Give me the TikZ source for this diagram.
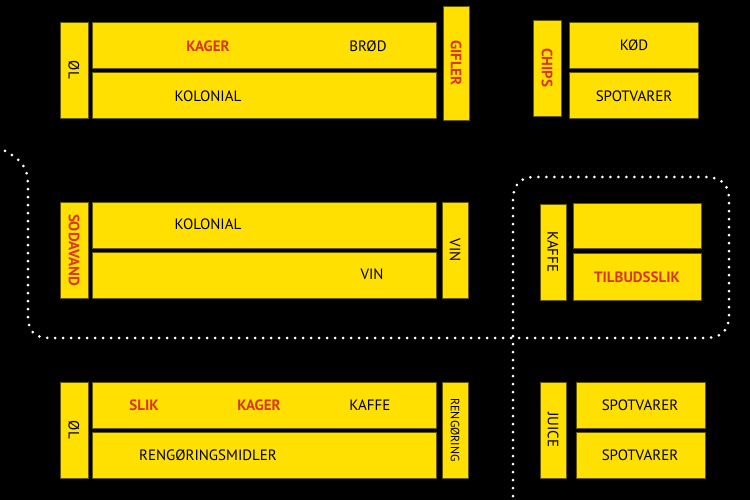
\documentclass[tikz,border=0pt]{standalone}
\usepackage{fontspec}
\setmainfont{PT Sans}
\definecolor{yel}{HTML}{FFE000}
\definecolor{rd}{HTML}{D9361E}
\begin{document}
\begin{tikzpicture}[x=1pt,y=-1pt,
 box/.style={fill=yel,draw=black!60!yel,line width=0.6pt},
 t/.style={font=\fontsize{15}{15}\selectfont,text=black},
 r/.style={font=\fontsize{15}{15}\selectfont\bfseries,text=rd},
 dots/.style={white,line width=3pt,line cap=round,dash pattern=on 0pt off 8pt}]
\fill[black] (0,0) rectangle (750,500);
\useasboundingbox (0,0) rectangle (750,500);
% top
\draw[box] (60,22) rectangle (88,118);
\draw[box] (92,22) rectangle (436,68);
\draw[box] (92,72) rectangle (436,118);
\draw[box] (443,6) rectangle (469,120);
\draw[box] (533,20) rectangle (561,116);
\draw[box] (569,22) rectangle (698,68);
\draw[box] (569,72) rectangle (698,118);
\node[t,rotate=-90] (ol1) at (74,70) {ØL};
\node[r] (kager1) at (208,46) {KAGER};
\node[t] (brod) at (368,46) {BRØD};
\node[t] (kol1) at (208,96) {KOLONIAL};
\node[r,rotate=-90] (gifler) at (456,63) {GIFLER};
\node[r,rotate=-90] (chips) at (547,68) {CHIPS};
\node[t] (kod) at (634,45) {KØD};
\node[t] (spot1) at (634,96) {SPOTVARER};
% middle
\draw[box] (60,202) rectangle (88,298);
\draw[box] (92,202) rectangle (436,248);
\draw[box] (92,252) rectangle (436,298);
\draw[box] (442,202) rectangle (468,298);
\draw[box] (540,204) rectangle (566,300);
\draw[box] (573,203) rectangle (701,248);
\draw[box] (573,253) rectangle (701,300);
\node[r,rotate=-90] (soda) at (74,250) {SODAVAND};
\node[t] (kol2) at (208,224) {KOLONIAL};
\node[t] (vin1) at (372,274) {VIN};
\node[t,rotate=-90] (vin2) at (455,250) {VIN};
\node[t,rotate=-90] (kaffe1) at (553,252) {KAFFE};
\node[r] (tilbud) at (637,277) {TILBUDSSLIK};
% bottom
\draw[box] (60,382) rectangle (88,478);
\draw[box] (92,382) rectangle (436,428);
\draw[box] (92,432) rectangle (436,478);
\draw[box] (442,382) rectangle (468,478);
\draw[box] (540,382) rectangle (566,478);
\draw[box] (576,382) rectangle (705,428);
\draw[box] (576,432) rectangle (705,478);
\node[t,rotate=-90] (ol2) at (74,430) {ØL};
\node[r] (slik) at (144,405) {SLIK};
\node[r] (kager2) at (259,405) {KAGER};
\node[t] (kaffe2) at (370,405) {KAFFE};
\node[t] (reng) at (208,455) {RENGØRINGSMIDLER};
\node[t,rotate=-90,font=\fontsize{12}{12}\selectfont] (reng2) at (455,430) {RENGØRING};
\node[t,rotate=-90] (juice) at (553,430) {JUICE};
\node[t] (spot2) at (640,405) {SPOTVARER};
\node[t] (spot3) at (640,455) {SPOTVARER};
% path
\draw[dots] (5,151) .. controls (22,160) and (28,168) .. (28,185) -- (28,315) .. controls (28,332) and (35,338) .. (50,338) -- (705,338) .. controls (722,338) and (729,330) .. (729,315) -- (729,200) .. controls (729,185) and (722,177) .. (705,177) -- (535,177) .. controls (520,177) and (513,185) .. (513,200) -- (513,500);
\end{tikzpicture}
\end{document}
